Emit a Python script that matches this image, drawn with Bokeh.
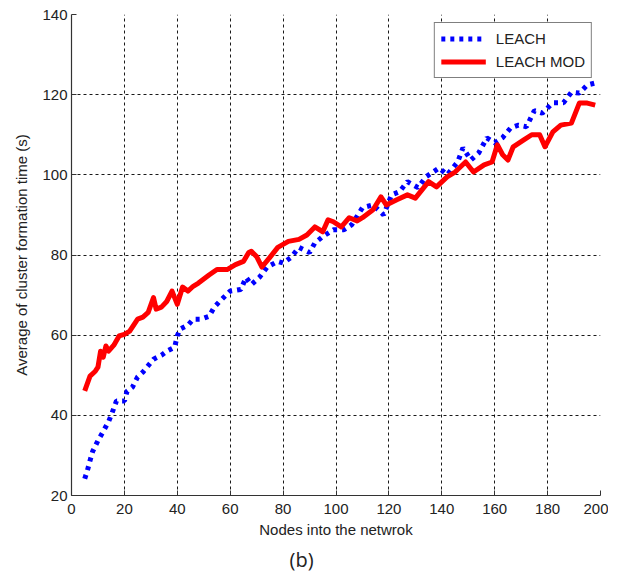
from bokeh.plotting import figure
from bokeh.models import Range1d, FixedTicker, Title, Legend, LegendItem
from bokeh.embed import file_html
from bokeh.resources import INLINE

# ---- data ----
leach_nodes = [5, 6, 7, 8, 10, 12, 14, 15, 17, 20, 21, 23, 25, 27, 29, 31, 34, 36, 39, 40,
               41, 44, 46, 49, 52, 54, 56, 60, 64, 66, 68, 71, 74, 78, 80, 83, 86, 90, 92, 95,
               99, 103, 106, 110, 114, 118, 121, 124, 127, 131, 134, 139, 142, 146, 148, 151,
               154, 157, 160, 163, 166, 169, 172, 175, 178, 182, 186, 189, 192, 195, 198]
leach_vals = [24.2, 26.2, 28.7, 31.0, 33.7, 36.0, 38.4, 40.0, 43.6, 43.6, 46.0, 47.0, 49.6, 50.8,
              52.4, 54.0, 55.0, 56.0, 57.0, 59.8, 61.5, 62.5, 64.0, 64.0, 64.7, 67.0, 68.4, 71.0,
              71.4, 74.4, 72.6, 74.4, 77.0, 78.4, 78.0, 79.4, 81.9, 80.6, 83.0, 84.6, 86.3, 86.3,
              87.6, 91.8, 92.5, 90.0, 95.0, 95.8, 98.3, 96.8, 99.5, 101.7, 100.0, 103.2, 106.7,
              103.7, 105.5, 109.2, 108.0, 109.3, 111.7, 112.4, 112.0, 116.0, 115.4, 118.0, 118.0,
              120.6, 120.4, 122.4, 122.9]

mod_nodes = [5, 7, 9, 10, 11, 12, 13, 14, 16, 18, 20, 22, 25, 27, 29, 31, 32, 34, 36, 38,
             40, 42, 44, 46, 48, 50, 52, 55, 59, 62, 65, 67, 68, 70, 72, 75, 78, 82, 86, 89,
             92, 95, 97, 99, 102, 105, 108, 110, 114, 117, 119, 123, 127, 130, 135, 138, 142,
             145, 149, 152, 156, 159, 161, 163, 165, 167, 171, 174, 177, 179, 182, 185, 189,
             192, 195, 198]
mod_vals = [46.1, 49.8, 51.0, 52.0, 56.0, 54.5, 57.3, 56.0, 57.5, 59.8, 60.2, 61.0, 64.0, 64.5,
            65.7, 69.4, 66.5, 67.0, 68.4, 71.0, 67.7, 72.0, 71.0, 72.2, 73.0, 74.0, 75.0, 76.4,
            76.4, 77.6, 78.4, 80.6, 80.9, 79.6, 77.0, 79.4, 81.9, 83.4, 83.9, 85.0, 87.0, 85.8,
            88.8, 88.3, 87.0, 89.3, 88.5, 89.3, 91.3, 94.5, 92.5, 93.8, 95.0, 94.2, 98.3, 97.0,
            99.5, 100.7, 103.2, 100.7, 102.5, 103.2, 107.5, 105.0, 103.7, 107.0, 108.7, 110.0,
            110.0, 107.0, 110.7, 112.4, 112.9, 117.9, 117.9, 117.4]

x_ticks = [0, 20, 40, 60, 80, 100, 120, 140, 160, 180, 200]
y_ticks = [20, 40, 60, 80, 100, 120, 140]

series_names = ["LEACH", "LEACH MOD"]
x_label = "Nodes into the netwrok"
y_label = "Average of cluster formation time (s)"
caption = "(b)"

FONT = "Liberation Sans"

p = figure(width=608, height=575,
           x_range=Range1d(0, 200), y_range=Range1d(20, 140),
           output_backend="svg", toolbar_location=None,
           min_border_left=71, min_border_top=14, min_border_right=8, min_border_bottom=78,
           background_fill_color="white", border_fill_color="white")
p.outline_line_color = None

r1 = p.line(leach_nodes, leach_vals, line_color="#0000ff", line_width=5,
            line_dash="4 5", line_cap="butt")
r2 = p.line(mod_nodes, mod_vals, line_color="#ff0000", line_width=5, line_join="round")

for ax in (p.xaxis, p.yaxis):
    ax.axis_line_color = "#333333"
    ax.axis_line_width = 1.2
    ax.major_tick_in = 5
    ax.major_tick_out = 0
    ax.major_tick_line_color = "#333333"
    ax.minor_tick_line_color = None
    ax.major_label_text_font = FONT
    ax.major_label_text_font_size = "15px"
    ax.major_label_text_color = "#222222"
    ax.axis_label_text_font = FONT
    ax.axis_label_text_font_size = "15px"
    ax.axis_label_text_font_style = "normal"
    ax.axis_label_text_color = "#222222"

p.xaxis.ticker = FixedTicker(ticks=x_ticks)
p.yaxis.ticker = FixedTicker(ticks=y_ticks)
p.xaxis.axis_label = x_label
p.yaxis.axis_label = y_label
p.xaxis.major_label_standoff = 8
p.xaxis.axis_label_standoff = 4
p.yaxis.major_label_standoff = 4
p.yaxis.axis_label_standoff = 9

p.grid.grid_line_color = "black"
p.grid.grid_line_dash = "3 3"
p.grid.grid_line_width = 1
p.grid.grid_line_alpha = 0.9

legend = Legend(items=[LegendItem(label=series_names[0], renderers=[r1]),
                       LegendItem(label=series_names[1], renderers=[r2])],
                location="top_right")
legend.margin = 8
legend.padding = 6
legend.spacing = 4
legend.glyph_height = 19
legend.glyph_width = 45
legend.label_standoff = 10
legend.label_text_font = FONT
legend.label_text_font_size = "15px"
legend.label_text_color = "#222222"
legend.border_line_color = "black"
legend.border_line_width = 1
legend.background_fill_color = "white"
legend.background_fill_alpha = 1
p.add_layout(legend)

p.add_layout(Title(text=caption, text_font="Open Sans", text_font_size="20px",
                   text_font_style="normal", text_color="#222222",
                   align="left", offset=218, standoff=6), "below")

open("out.html", "w").write(file_html(p, INLINE))
